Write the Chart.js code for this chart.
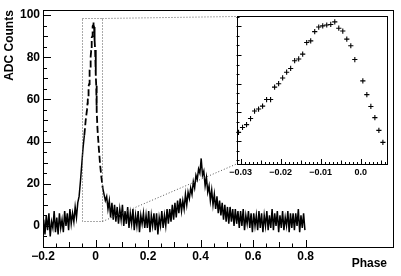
<!DOCTYPE html>
<html><head><meta charset="utf-8">
<script src="https://cdn.jsdelivr.net/npm/chart.js@4/dist/chart.umd.min.js"></script>
<style>
html,body{margin:0;padding:0;background:#fff;}
#wrap{position:relative;width:401px;height:276px;overflow:hidden;}
#main{position:absolute;left:0;top:0;}
#inset{position:absolute;left:226px;top:11px;}
</style></head><body>
<div id="wrap">
<canvas id="main" width="401" height="276"></canvas>
<canvas id="inset" width="166" height="175"></canvas>
</div>
<script>
// ---------- data ----------
const xTickLabels = [-0.2, 0, 0.2, 0.4, 0.6, 0.8];
const yTickLabels = [0, 20, 40, 60, 80, 100];
const insetTickLabels = [-0.03, -0.02, -0.01, 0.0];

// left part: bins of 0.005 starting at phase -0.2
const leftStart = -0.2;
const mainBin = 0.005;
const leftCounts = [3,-4,5,-2,6,-5,2,-1,7,-3,4,-4,6,-1,3,-3,7,0,6,-2,8,1,6,2,9,4,11,14,21,29,37,43,50,55];

// peak part (also shown in the inset): bins of 0.001 starting at phase -0.031
const peakStart = -0.031;
const peakBin = 0.001;
const peakCounts = [58.1,59.8,60.8,62.9,65.5,66.2,67.2,69.5,69.5,73.8,75.0,77.0,79.0,80.3,83.0,83.6,85.3,89.3,89.9,93.1,94.7,95.1,95.4,95.6,96.5,94.3,93.3,90.5,88.2,83.4,null,76.0,71.2,67.1,63.2,58.8,54.6];

// right part: bins of 0.005 starting at phase 0.005
const rightStart = 0.005;
const rightCounts = [46,37,29,23,18,15,12,14,8,12,
  4,11,3,10,2,9,1,8,3,10,
  0,7,1,9,-1,6,1,8,-2,5,
  0,7,-3,5,1,6,-1,5,-1,7,
  -3,5,0,6,-2,6,-4,4,0,7,
  -1,5,0,8,1,8,2,10,3,11,
  4,12,6,13,7,12,8,15,10,16,
  13,18,15,21,18,24,22,27,25,32,
  24,26,19,23,16,19,12,17,10,15,
  8,14,6,12,5,11,3,10,2,9,
  1,9,2,8,0,8,1,7,-1,7,
  0,8,-2,5,1,7,-1,6,-3,6,
  0,5,-2,7,-1,6,-3,5,0,7,
  -2,5,-1,8,-2,6,0,7,-3,5,
  -1,7,-2,4,0,7,-3,6,-1,6,
  -2,6,0,8,-3,5,-1,6,-2];

// zoom box drawn on the main plot (phase range, count range)
const zoomBoxX = [-0.052, 0.024];
const zoomBoxY = [2.3, 98.4];

// ---------- helpers ----------
function bins(start, width, counts){ return counts.map((c,i)=>({x:start+width*(i+0.5), y:c})); }
const mainPoints = [].concat(bins(leftStart, mainBin, leftCounts), bins(peakStart, peakBin, peakCounts), bins(rightStart, mainBin, rightCounts));
const insetPoints = bins(peakStart, peakBin, peakCounts);

const FONT = "'Liberation Sans', Arial, Helvetica, sans-serif";
const minus = s => s.replace('-', '\u2212');

// ---------- inset chart ----------
const insetPlugin = {
  id:'insetDeco',
  afterDraw(chart){
    const {ctx, chartArea:a} = chart;
    const xs = chart.scales.x, ys = chart.scales.y;
    ctx.save();
    ctx.strokeStyle = '#000'; ctx.lineWidth = 1;
    ctx.strokeRect(Math.round(a.left)+0.5, Math.round(a.top)+0.5, Math.round(a.right-a.left), Math.round(a.bottom-a.top));
    ctx.beginPath();
    for (let k=-31;k<=6;k++){
      const p = xs.getPixelForValue(k*0.001);
      if (p < a.left || p > a.right) continue;
      const len = (k%10===0)?5:((k%5===0)?3.5:2);
      ctx.moveTo(Math.round(p)+0.5, a.bottom); ctx.lineTo(Math.round(p)+0.5, a.bottom-len);
    }
    for (let k=0;k<=20;k++){
      const v = 45 + k*10/3;
      const p = ys.getPixelForValue(v);
      if (p < a.top || p > a.bottom) continue;
      const len = (k%3===0)?5:3;
      ctx.moveTo(a.left, Math.round(p)+0.5); ctx.lineTo(a.left+len, Math.round(p)+0.5);
    }
    ctx.stroke();
    ctx.restore();
  }
};

const insetChart = new Chart(document.getElementById('inset'), {
  type:'line',
  data:{ datasets:[{ data: insetPoints, showLine:false, pointStyle:'cross', pointRadius:2.6, pointBorderWidth:1.1, borderColor:'#000', backgroundColor:'#000' }]},
  options:{
    responsive:false, animation:false, events:[],
    layout:{ padding:{left:4, top:4, right:5, bottom:0} },
    plugins:{ legend:{display:false}, tooltip:{enabled:false} },
    scales:{
      x:{ type:'linear', min:-0.031, max:0.0065,
          afterBuildTicks: s => { s.ticks = insetTickLabels.map(v=>({value:v})); },
          afterFit: s => { s.height = 22; },
          grid:{display:false, drawTicks:false}, border:{display:false},
          ticks:{ autoSkip:false, maxRotation:0, padding:3, color:'#000',
                  font:{family:FONT, size:9, weight:'bold'},
                  callback: v => v===0 ? '0.0' : minus(v.toFixed(2)) } },
      y:{ type:'linear', min:47.1, max:98.5, display:false }
    }
  },
  plugins:[insetPlugin]
});

// ---------- main chart ----------
const mainPlugin = {
  id:'mainDeco',
  afterDraw(chart){
    const {ctx, chartArea:a} = chart;
    const xs = chart.scales.x, ys = chart.scales.y;
    ctx.save();
    ctx.strokeStyle = '#000'; ctx.lineWidth = 1;
    ctx.strokeRect(Math.round(a.left)+0.5, Math.round(a.top)+0.5, Math.round(a.right-a.left), Math.round(a.bottom-a.top));
    ctx.beginPath();
    for (let k=-4;k<=16;k++){
      const p = xs.getPixelForValue(k*0.05);
      const len = (k%4===0)?7:((k%2===0)?5:3.5);
      ctx.moveTo(Math.round(p)+0.5, a.bottom); ctx.lineTo(Math.round(p)+0.5, a.bottom-len);
    }
    for (let k=-1;k<=20;k++){
      const p = ys.getPixelForValue(k*5);
      const len = (k%4===0)?8:((k%2===0)?5:4);
      ctx.moveTo(a.left, Math.round(p)+0.5); ctx.lineTo(a.left+len, Math.round(p)+0.5);
    }
    ctx.stroke();
    const bx0 = xs.getPixelForValue(zoomBoxX[0]), bx1 = xs.getPixelForValue(zoomBoxX[1]);
    const by0 = ys.getPixelForValue(zoomBoxY[0]), by1 = ys.getPixelForValue(zoomBoxY[1]);
    const ic = insetChart.canvas, ia = insetChart.chartArea;
    const il = ic.offsetLeft + ia.left, it = ic.offsetTop + ia.top, ib = ic.offsetTop + ia.bottom;
    ctx.strokeStyle = '#555'; ctx.lineWidth = 1; ctx.setLineDash([1,2]);
    ctx.beginPath();
    ctx.rect(Math.round(bx0)+0.5, Math.round(by1)+0.5, Math.round(bx1-bx0), Math.round(by0-by1));
    ctx.moveTo(Math.round(bx1)+0.5, Math.round(by1)+0.5); ctx.lineTo(il, Math.round(it)+0.5);
    ctx.moveTo(Math.round(bx1)+0.5, Math.round(by0)+0.5); ctx.lineTo(il, ib);
    ctx.stroke();
    ctx.setLineDash([]);
    ctx.fillStyle = '#000';
    ctx.font = "bold 12px " + FONT;
    ctx.textAlign = 'right'; ctx.textBaseline = 'middle';
    ctx.fillText('Phase', a.right - 6, 264);
    ctx.restore();
  }
};

new Chart(document.getElementById('main'), {
  type:'line',
  data:{ datasets:[{ data: mainPoints, borderColor:'#000', borderWidth:1.5, pointRadius:0, tension:0, spanGaps:true,
    segment:{
      borderDash: c => (c.p0.parsed.x > -0.045 && c.p1.parsed.x < 0.03) ? [7,3] : undefined,
      borderWidth: c => (c.p0.parsed.x > -0.045 && c.p1.parsed.x < 0.03) ? 1.8 : undefined } }]},
  options:{
    responsive:false, animation:false, events:[],
    layout:{ padding:{left:0, top:7, right:8, bottom:0} },
    plugins:{ legend:{display:false}, tooltip:{enabled:false} },
    scales:{
      x:{ type:'linear', min:-0.2, max:1.133,
          afterBuildTicks: s => { s.ticks = xTickLabels.map(v=>({value:v})); },
          afterFit: s => { s.height = 29; },
          grid:{display:false, drawTicks:false}, border:{display:false},
          ticks:{ autoSkip:false, maxRotation:0, padding:2, color:'#000',
                  font:{family:FONT, size:12, weight:'bold'},
                  callback: v => v===0 ? '0' : minus(v.toFixed(1)) } },
      y:{ type:'linear', min:-10, max:102.3,
          afterBuildTicks: s => { s.ticks = yTickLabels.map(v=>({value:v})); },
          afterFit: s => { s.width = 43; },
          grid:{display:false, drawTicks:false}, border:{display:false},
          title:{ display:true, text:'ADC Counts', align:'end', color:'#000', padding:{top:2, bottom:0},
                  font:{family:FONT, size:12, weight:'bold'} },
          ticks:{ padding:3, color:'#000', font:{family:FONT, size:12, weight:'bold'},
                  callback: v => String(v) } }
    }
  },
  plugins:[mainPlugin]
});
</script>
</body></html>
